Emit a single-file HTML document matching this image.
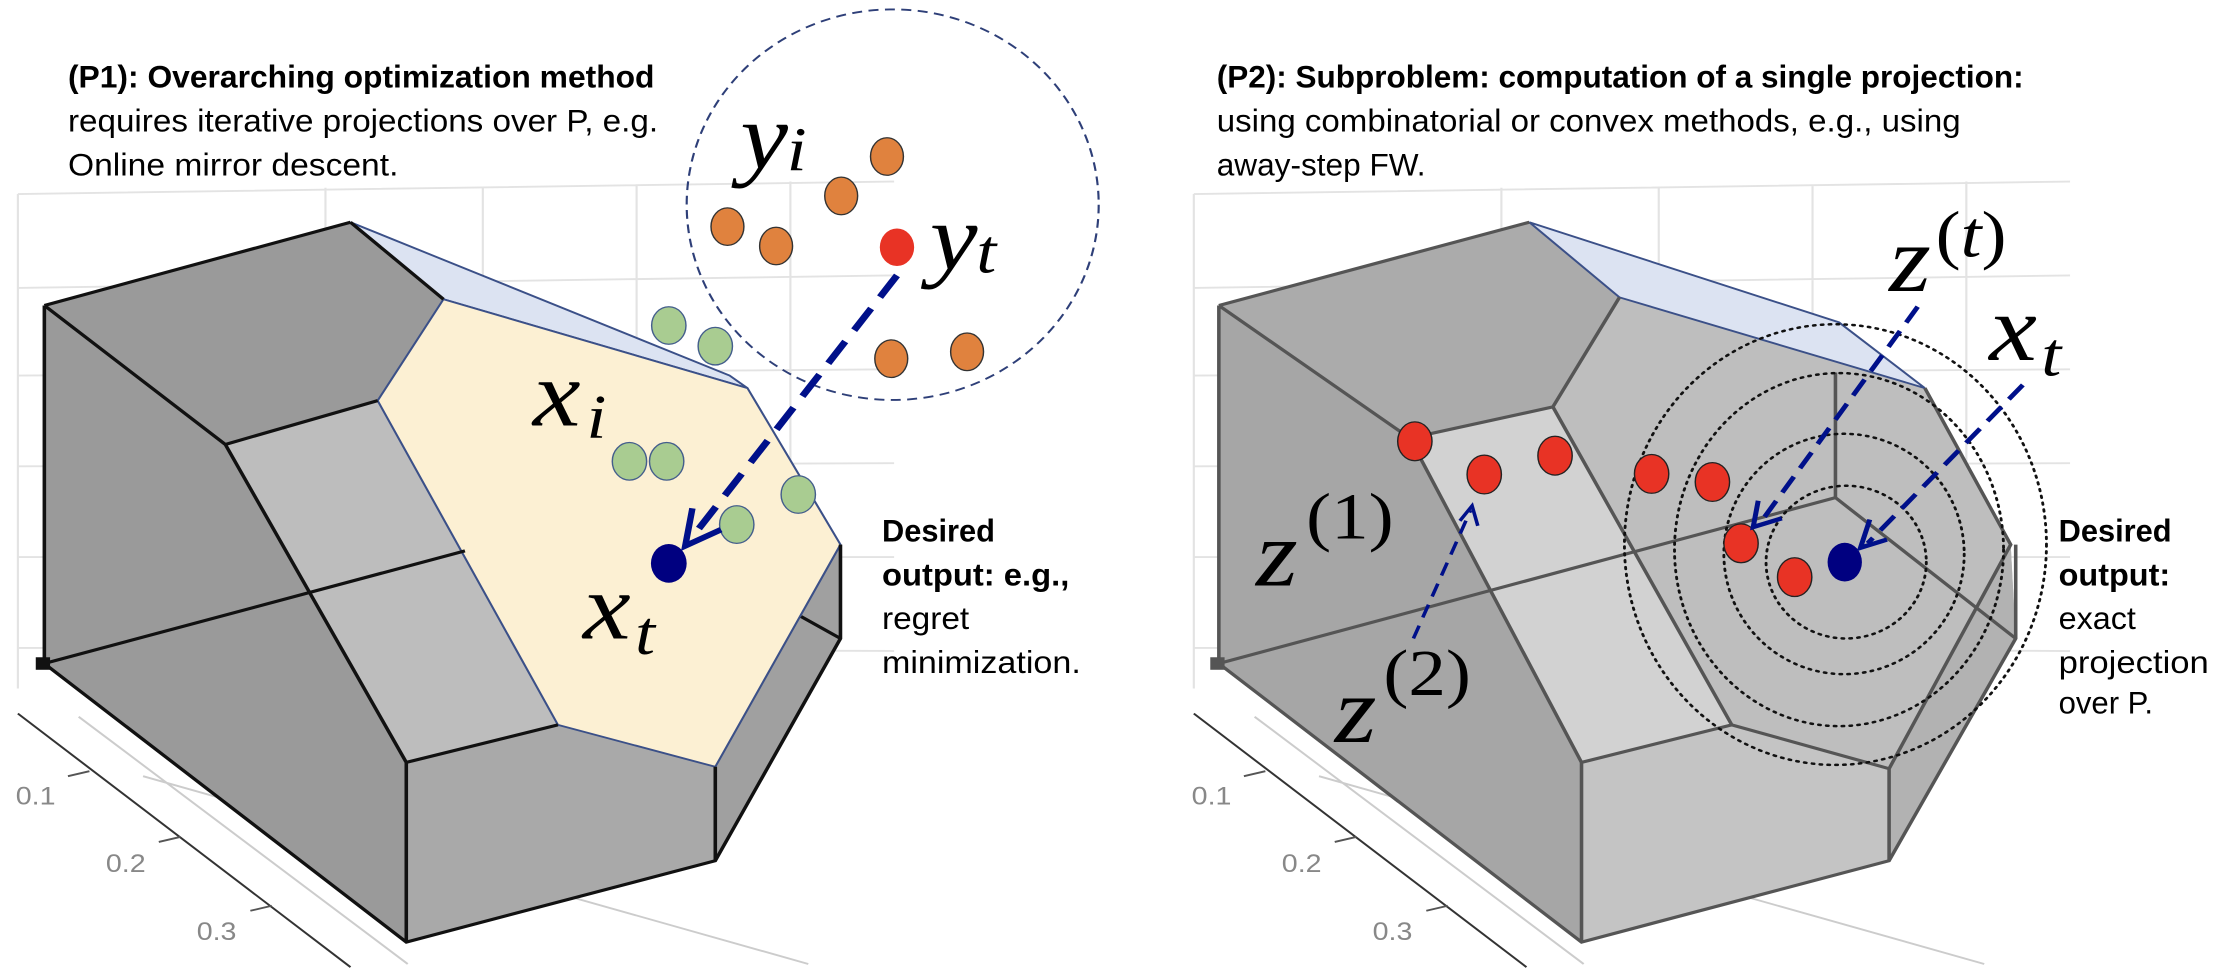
<!DOCTYPE html>
<html><head><meta charset="utf-8"><style>
html,body{margin:0;padding:0;background:#fff;width:2226px;height:974px;overflow:hidden}
svg{display:block}
.t{font-family:"Liberation Sans",sans-serif;font-size:50px;fill:#000}
.b{font-weight:bold}
.m{font-family:"Liberation Serif",serif;font-style:italic;fill:#000}
.r{font-family:"Liberation Serif",serif;fill:#000}
.ax{font-family:"Liberation Sans",sans-serif;font-size:40px;fill:#888}
</style></head><body>
<svg width="2226" height="974" viewBox="0 0 3112 1556" preserveAspectRatio="none" xmlns="http://www.w3.org/2000/svg">
<defs>
<g id="grid" stroke="#e3e3e3" stroke-width="3" fill="none">
<path d="M25,310 L1250,290 M25,460 L1250,440 M25,600 L1250,590 M25,745 L1250,740 M25,890 L1250,890 M25,1035 L1250,1040 M25,310 L25,1100 M455,300 L455,1100 M675,300 L675,1100 M890,295 L890,1100 M1105,290 L1105,1100"/>
<path d="M110,1145 L570,1540 M200,1240 L1130,1540" stroke="#ccc"/>
</g>
</defs>

<!-- LEFT PANEL -->
<use href="#grid"/>
<path d="M25,1140 L490,1545" stroke="#333" stroke-width="3"/>
<path d="M95,1240 L125,1232 M222,1345 L252,1337 M350,1455 L380,1447" stroke="#555" stroke-width="3"/>
<text class="ax" x="22" y="1285">0.1</text>
<text class="ax" x="148" y="1393">0.2</text>
<text class="ax" x="275" y="1502">0.3</text>

<polygon points="62,488 490,355 1045,620 1175,870 1175,1020 1000,1375 568,1505 62,1060" fill="#9a9a9a"/>
<polygon points="315,710 528,640 780,1158 568,1218" fill="#bdbdbd"/>
<polygon points="568,1218 780,1158 1000,1225 1000,1375 568,1505" fill="#a9a9a9"/>
<polygon points="1000,1225 1175,870 1175,1020 1000,1375" fill="#a0a0a0"/>
<polygon points="490,355 620,478 1045,620 1020,600" fill="#dce3f2" stroke="#3b5088" stroke-width="3"/>
<polygon points="528,640 620,478 1045,620 1175,870 1000,1225 780,1158" fill="#fcf0d3" stroke="#3b5088" stroke-width="3"/>
<g stroke="#111" stroke-width="5" fill="none">
<path d="M62,488 L490,355 M62,488 L62,1060 M62,488 L315,710 L528,640 M315,710 L568,1218 L568,1505 M62,1060 L568,1505 L1000,1375 L1175,1020 L1175,870 M568,1218 L780,1158 M1000,1225 L1000,1375 M62,1060 L650,880 M1120,985 L1175,1020 M490,355 L620,478"/>
</g>
<rect x="50" y="1050" width="20" height="20" fill="#111"/>

<ellipse cx="1248" cy="327" rx="288" ry="312" fill="none" stroke="#2e3f78" stroke-width="3" stroke-dasharray="14 9"/>
<g fill="#e0823e" stroke="#333" stroke-width="2">
<ellipse cx="1240" cy="250" rx="23" ry="30"/><ellipse cx="1176" cy="313" rx="23" ry="30"/>
<ellipse cx="1017" cy="362" rx="23" ry="30"/><ellipse cx="1085" cy="393" rx="23" ry="30"/>
<ellipse cx="1246" cy="573" rx="23" ry="30"/><ellipse cx="1352" cy="562" rx="23" ry="30"/>
</g>
<ellipse cx="1254" cy="395" rx="24" ry="30" fill="#e83325"/>
<g fill="#a9cc91" stroke="#445e8c" stroke-width="2">
<ellipse cx="935" cy="520" rx="24" ry="30"/><ellipse cx="1000" cy="553" rx="24" ry="30"/>
<ellipse cx="880" cy="737" rx="24" ry="30"/><ellipse cx="932" cy="737" rx="24" ry="30"/>
<ellipse cx="1116" cy="790" rx="24" ry="30"/><ellipse cx="1030" cy="838" rx="24" ry="30"/>
</g>
<path d="M1254,440 L965,862" stroke="#00108a" stroke-width="10" stroke-dasharray="42 22" fill="none"/>
<path d="M968,812 L958,872 L1008,846" stroke="#00108a" stroke-width="9" fill="none"/>
<ellipse cx="935" cy="900" rx="25" ry="31" fill="#000080"/>

<text class="m" x="1035" y="268" font-size="150">y</text><text class="m" x="1100" y="272" font-size="100">i</text>
<text class="m" x="1300" y="430" font-size="150">y</text><text class="m" x="1365" y="435" font-size="100">t</text>
<text class="m" x="745" y="680" font-size="150">x</text><text class="m" x="820" y="700" font-size="100">i</text>
<text class="m" x="815" y="1020" font-size="150">x</text><text class="m" x="888" y="1045" font-size="100">t</text>

<text class="t b" x="95" y="140" textLength="820" lengthAdjust="spacingAndGlyphs">(P1): Overarching optimization method</text>
<text class="t" x="95" y="210" textLength="825" lengthAdjust="spacingAndGlyphs">requires iterative projections over P, e.g.</text>
<text class="t" x="95" y="280" textLength="462" lengthAdjust="spacingAndGlyphs">Online mirror descent.</text>
<text class="t b" x="1233" y="865" textLength="158" lengthAdjust="spacingAndGlyphs">Desired</text>
<text class="t b" x="1233" y="935" textLength="262" lengthAdjust="spacingAndGlyphs">output: e.g.,</text>
<text class="t" x="1233" y="1005" textLength="122" lengthAdjust="spacingAndGlyphs">regret</text>
<text class="t" x="1233" y="1075" textLength="278" lengthAdjust="spacingAndGlyphs">minimization.</text>

<!-- RIGHT PANEL -->
<g transform="translate(1556,0)">
<g transform="translate(88,0)"><use href="#grid"/></g>
<path d="M113,1140 L578,1545" stroke="#333" stroke-width="3"/>
<path d="M183,1240 L213,1232 M310,1345 L340,1337 M438,1455 L468,1447" stroke="#555" stroke-width="3"/>
<text class="ax" x="110" y="1285">0.1</text>
<text class="ax" x="236" y="1393">0.2</text>
<text class="ax" x="363" y="1502">0.3</text>

<polygon points="148,488 582,355 1135,620 1255,870 1262,1020 1085,1375 655,1505 148,1060" fill="#b5b5b5"/>
<polygon points="148,488 582,355 708,475 615,650 415,700" fill="#ababab"/>
<polygon points="148,488 415,700 655,1218 655,1505 148,1060" fill="#a6a6a6"/>
<polygon points="415,700 615,650 865,1158 655,1218" fill="#d2d2d2"/>
<polygon points="615,650 708,475 1135,620 1255,870 1085,1228 865,1158" fill="#bebebe"/>
<polygon points="655,1218 865,1158 1085,1228 1085,1375 655,1505" fill="#c4c4c4"/>
<polygon points="1085,1228 1255,870 1262,1020 1085,1375" fill="#b2b2b2"/>
<polygon points="582,355 708,475 1135,620 1015,515" fill="#dce3f2" stroke="#3b5088" stroke-width="3"/>
<g stroke="#555" stroke-width="5" fill="none">
<path d="M148,488 L582,355 M148,488 L148,1060 M148,488 L415,700 L615,650 L708,475 M415,700 L655,1218 L655,1505 M148,1060 L655,1505 L1085,1375 L1262,1020 L1262,870 M1135,620 L1255,870 L1085,1228 L1085,1375 M655,1218 L865,1158 L1085,1228 M615,650 L865,1158 M148,1060 L1010,795 L1262,1020 M1010,795 L1010,595"/>
</g>
<rect x="136" y="1050" width="20" height="20" fill="#555"/>

<g fill="none" stroke="#111" stroke-width="4" stroke-dasharray="3 8" stroke-linecap="round">
<ellipse cx="1025" cy="898" rx="112" ry="122"/>
<ellipse cx="1022" cy="885" rx="168" ry="192"/>
<ellipse cx="1015" cy="878" rx="230" ry="282"/>
<ellipse cx="1010" cy="870" rx="295" ry="352"/>
</g>
<g fill="#e83325" stroke="#222" stroke-width="2">
<ellipse cx="422" cy="705" rx="24" ry="31"/><ellipse cx="519" cy="758" rx="24" ry="31"/>
<ellipse cx="618" cy="728" rx="24" ry="31"/><ellipse cx="753" cy="757" rx="24" ry="31"/>
<ellipse cx="838" cy="770" rx="24" ry="31"/><ellipse cx="878" cy="868" rx="24" ry="31"/>
<ellipse cx="953" cy="922" rx="24" ry="31"/>
</g>
<ellipse cx="1023" cy="898" rx="24" ry="31" fill="#000080"/>
<g stroke="#00108a" stroke-width="7" fill="none">
<path d="M1125,490 L905,835" stroke-dasharray="30 16"/>
<path d="M902,800 L895,842 L935,828"/>
<path d="M1272,615 L1055,868" stroke-dasharray="30 16"/>
<path d="M1058,830 L1045,875 L1082,862"/>
<path d="M420,1020 L500,815" stroke-dasharray="22 14" stroke-width="5"/>
<path d="M485,832 L502,808 L510,840" stroke-width="5"/>
</g>

<text class="m" x="1085" y="465" font-size="150">z</text><text class="r" x="1150" y="410" font-size="105">(<tspan font-style="italic">t</tspan>)</text>
<text class="m" x="1225" y="575" font-size="150">x</text><text class="m" x="1298" y="600" font-size="100">t</text>
<text class="m" x="200" y="935" font-size="150">z</text><text class="r" x="270" y="860" font-size="105">(1)</text>
<text class="m" x="310" y="1185" font-size="150">z</text><text class="r" x="378" y="1110" font-size="105">(2)</text>

<text class="t b" x="145" y="140" textLength="1128" lengthAdjust="spacingAndGlyphs">(P2): Subproblem: computation of a single projection:</text>
<text class="t" x="145" y="210" textLength="1040" lengthAdjust="spacingAndGlyphs">using combinatorial or convex methods, e.g., using</text>
<text class="t" x="145" y="280" textLength="292" lengthAdjust="spacingAndGlyphs">away-step FW.</text>
<text class="t b" x="1322" y="865" textLength="158" lengthAdjust="spacingAndGlyphs">Desired</text>
<text class="t b" x="1322" y="935" textLength="156" lengthAdjust="spacingAndGlyphs">output:</text>
<text class="t" x="1322" y="1005" textLength="108" lengthAdjust="spacingAndGlyphs">exact</text>
<text class="t" x="1322" y="1075" textLength="210" lengthAdjust="spacingAndGlyphs">projection</text>
<text class="t" x="1322" y="1140" textLength="132" lengthAdjust="spacingAndGlyphs">over P.</text>
</g>
</svg>
</body></html>
